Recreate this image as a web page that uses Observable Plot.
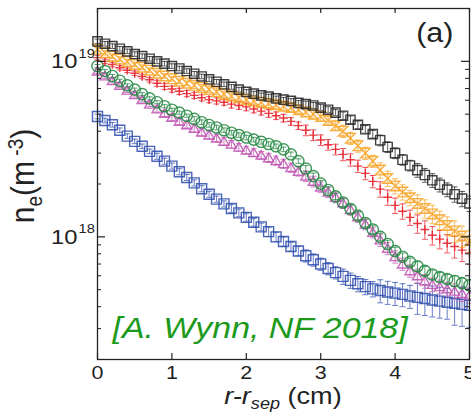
<!DOCTYPE html>
<html>
<head>
<meta charset="utf-8">
<script src="https://cdn.jsdelivr.net/npm/d3@7"></script>
<script src="https://cdn.jsdelivr.net/npm/@observablehq/plot@0.6"></script>
<style>
  html, body { margin: 0; padding: 0; background: #fff; }
  #chart svg { display: block; }
</style>
</head>
<body>
<div id="chart"></div>
<script>
// Radial position outside the separatrix (cm)
const rMinusRsep = [
  0.0, 0.1, 0.2, 0.3, 0.4, 0.5, 0.6, 0.7, 0.8, 0.9,
  1.0, 1.1, 1.2, 1.3, 1.4, 1.5, 1.6, 1.7, 1.8, 1.9,
  2.0, 2.1, 2.2, 2.3, 2.4, 2.5, 2.6, 2.7, 2.8, 2.9,
  3.0, 3.1, 3.2, 3.3, 3.4, 3.5, 3.6, 3.7, 3.8, 3.9,
  4.0, 4.1, 4.2, 4.3, 4.4, 4.5, 4.6, 4.7, 4.8, 4.9, 5.0
];

// Electron density profiles, in units of 1e18 m^-3
const neBlack = [
  13.0, 12.6, 12.2, 11.8, 11.4, 11.0, 10.7, 10.35, 10.0, 9.7,
  9.4, 9.1, 8.8, 8.5, 8.2, 7.9, 7.65, 7.4, 7.15, 6.9,
  6.7, 6.55, 6.4, 6.3, 6.15, 6.05, 5.95, 5.8, 5.7, 5.6,
  5.45, 5.3, 5.1, 4.9, 4.65, 4.35, 4.1, 3.85, 3.55, 3.25,
  3.0, 2.75, 2.55, 2.4, 2.25, 2.1, 1.98, 1.86, 1.75, 1.65, 1.55
];
const neOrange = [
  11.7, 11.2, 10.7, 10.3, 9.95, 9.6, 9.25, 8.9, 8.55, 8.25,
  7.95, 7.7, 7.5, 7.3, 7.1, 6.9, 6.7, 6.5, 6.35, 6.2,
  6.05, 5.95, 5.85, 5.75, 5.65, 5.55, 5.45, 5.3, 5.15, 5.0,
  4.85, 4.6, 4.3, 4.0, 3.65, 3.3, 3.0, 2.7, 2.4, 2.15,
  1.95, 1.8, 1.67, 1.55, 1.45, 1.35, 1.25, 1.16, 1.08, 1.01, 0.95
];
const neRed = [
  10.5, 10.0, 9.6, 9.2, 8.9, 8.55, 8.2, 7.85, 7.5, 7.2,
  6.95, 6.75, 6.55, 6.4, 6.2, 6.05, 5.95, 5.85, 5.7, 5.6,
  5.5, 5.35, 5.2, 5.05, 4.9, 4.75, 4.55, 4.3, 4.05, 3.8,
  3.56, 3.35, 3.15, 2.95, 2.75, 2.53, 2.3, 2.07, 1.87, 1.68,
  1.51, 1.4, 1.29, 1.19, 1.1, 1.02, 0.97, 0.92, 0.88, 0.84, 0.81
];
const neGreen = [
  9.4, 8.8, 8.25, 7.75, 7.3, 6.9, 6.5, 6.15, 5.85, 5.55,
  5.3, 5.1, 4.9, 4.7, 4.5, 4.34, 4.2, 4.05, 3.92, 3.8,
  3.68, 3.58, 3.48, 3.38, 3.28, 3.15, 2.95, 2.7, 2.45, 2.22,
  2.01, 1.85, 1.7, 1.57, 1.44, 1.32, 1.2, 1.1, 1.0, 0.91,
  0.83, 0.77, 0.72, 0.68, 0.64, 0.61, 0.59, 0.575, 0.56, 0.545, 0.53
];
const neMagenta = [
  8.8, 8.25, 7.75, 7.3, 6.85, 6.45, 6.05, 5.7, 5.35, 5.05,
  4.8, 4.55, 4.35, 4.15, 3.95, 3.8, 3.65, 3.5, 3.37, 3.24,
  3.12, 3.02, 2.92, 2.82, 2.72, 2.61, 2.48, 2.36, 2.22, 2.07,
  1.92, 1.8, 1.68, 1.56, 1.43, 1.3, 1.18, 1.06, 0.96, 0.86,
  0.77, 0.7, 0.64, 0.6, 0.56, 0.535, 0.52, 0.505, 0.49, 0.475, 0.465
];
const neBlue = [
  4.85, 4.6, 4.35, 4.05, 3.75, 3.5, 3.28, 3.07, 2.88, 2.7,
  2.53, 2.35, 2.18, 2.03, 1.88, 1.75, 1.64, 1.54, 1.45, 1.37,
  1.29, 1.21, 1.14, 1.07, 1.0, 0.94, 0.88, 0.83, 0.78, 0.74,
  0.7, 0.66, 0.625, 0.595, 0.565, 0.54, 0.52, 0.505, 0.495, 0.485,
  0.478, 0.47, 0.46, 0.452, 0.445, 0.437, 0.43, 0.424, 0.418, 0.412, 0.407
];

// Relative uncertainty per 0.5 cm band (0, 0.5, ..., 5 cm)
const errBands = [0, 0.5, 1, 1.5, 2, 2.5, 3, 3.5, 4, 4.5, 5];
const errBlack   = [0.03, 0.03, 0.03, 0.03, 0.03, 0.03, 0.04, 0.05, 0.07, 0.09, 0.10];
const errOrange  = [0.03, 0.03, 0.03, 0.04, 0.04, 0.05, 0.06, 0.08, 0.10, 0.12, 0.14];
const errRed     = [0.03, 0.03, 0.04, 0.04, 0.05, 0.05, 0.07, 0.08, 0.10, 0.12, 0.14];
const errGreen   = [0.02, 0.02, 0.02, 0.03, 0.03, 0.03, 0.04, 0.05, 0.05, 0.06, 0.07];
const errMagenta = [0.03, 0.03, 0.04, 0.05, 0.05, 0.06, 0.07, 0.07, 0.08, 0.09, 0.10];
const errBlue    = [0.03, 0.03, 0.04, 0.04, 0.05, 0.06, 0.08, 0.10, 0.15, 0.20, 0.25];

// Axis ticks
const xTicks = [0, 1, 2, 3, 4, 5];
const yMajor = [1e18, 1e19];
const yMinor = [2e17, 3e17, 4e17, 5e17, 6e17, 7e17, 8e17, 9e17,
                2e18, 3e18, 4e18, 5e18, 6e18, 7e18, 8e18, 9e18];

const UNIT = 1e18;

// Open marker shapes; r is the half-width in pixels
const half = (s) => Math.sqrt(s / Math.PI);
const symbols = {
  square:    {draw(c, s) { const r = half(s); c.rect(-r, -r, 2 * r, 2 * r); }},
  hourglass: {draw(c, s) { const r = half(s); c.moveTo(-r, -r); c.lineTo(r, -r); c.lineTo(-r, r); c.lineTo(r, r); c.closePath(); }},
  plus:      {draw(c, s) { const r = half(s); c.moveTo(-r, 0); c.lineTo(r, 0); c.moveTo(0, -r); c.lineTo(0, r); }},
  triangle:  {draw(c, s) { const r = half(s); c.moveTo(0, -r); c.lineTo(r * 1.1, r * 0.85); c.lineTo(-r * 1.1, r * 0.85); c.closePath(); }},
  circle:    {draw(c, s) { const r = half(s); c.moveTo(r, 0); c.arc(0, 0, r, 0, 2 * Math.PI); }},
  cap:       {draw(c, s) { const r = half(s); c.moveTo(-r, 0); c.lineTo(r, 0); }}
};

// Drawing order: bottom to top
const series = [
  {key: "blue",    values: neBlue,    err: errBlue,    color: "#3553b0", symbol: symbols.square,    r: 5.0},
  {key: "magenta", values: neMagenta, err: errMagenta, color: "#c058b4", symbol: symbols.triangle,  r: 4.6},
  {key: "green",   values: neGreen,   err: errGreen,   color: "#278a45", symbol: symbols.circle,    r: 5.6},
  {key: "red",     values: neRed,     err: errRed,     color: "#e8232e", symbol: symbols.plus,      r: 4.4},
  {key: "orange",  values: neOrange,  err: errOrange,  color: "#f7a52a", symbol: symbols.hourglass, r: 4.8},
  {key: "black",   values: neBlack,   err: errBlack,   color: "#2a2a2a", symbol: symbols.square,    r: 4.6}
];

const W = 471, H = 417;
const margin = {left: 97, right: 2, top: 8, bottom: 58};
const innerW = W - margin.left - margin.right;
const innerH = H - margin.top - margin.bottom;
const ink = "#222";
const font = "'Liberation Sans', Arial, Helvetica, sans-serif";
const textStretch = 1.13; // wide lettering of the figure

const seriesMarks = series.flatMap((s) => {
  const rows = rMinusRsep.map((x, i) => {
    const v = s.values[i] * UNIT;
    const e = s.err[errBands.indexOf(Math.round(x * 2) / 2)];
    return {x, v, lo: v * (1 - e), hi: v * (1 + e)};
  });
  return [
    Plot.ruleX(rows, {x: "x", y1: "lo", y2: "hi", stroke: s.color, strokeWidth: 1, strokeOpacity: 0.75}),
    Plot.dot(rows, {x: "x", y: "lo", symbol: symbols.cap, r: 3, stroke: s.color, strokeWidth: 1, strokeOpacity: 0.75}),
    Plot.dot(rows, {x: "x", y: "hi", symbol: symbols.cap, r: 3, stroke: s.color, strokeWidth: 1, strokeOpacity: 0.75}),
    Plot.dot(rows, {x: "x", y: "v", symbol: s.symbol, r: s.r, fill: "none", stroke: s.color, strokeWidth: 1.4, strokeOpacity: 0.9})
  ];
});

const chart = Plot.plot({
  width: W,
  height: H,
  marginLeft: margin.left,
  marginRight: margin.right,
  marginTop: margin.top,
  marginBottom: margin.bottom,
  style: {fontFamily: font, color: ink, background: "#fff", overflow: "visible"},
  x: {domain: [0, 5], axis: null},
  y: {type: "log", domain: [2e17, 2e19], axis: null},
  marks: [
    ...seriesMarks,
    // inward ticks on all four sides
    Plot.tickX(xTicks, {x: (d) => d, insetTop: innerH - 6, stroke: ink, strokeWidth: 1.2}),
    Plot.tickX(xTicks, {x: (d) => d, insetBottom: innerH - 5, stroke: ink, strokeWidth: 1.2}),
    Plot.tickY(yMajor, {y: (d) => d, insetRight: innerW - 8, stroke: ink, strokeWidth: 1.2}),
    Plot.tickY(yMinor, {y: (d) => d, insetRight: innerW - 4, stroke: ink, strokeWidth: 1}),
    Plot.tickY(yMajor, {y: (d) => d, insetLeft: innerW - 8, stroke: ink, strokeWidth: 1.2}),
    Plot.tickY(yMinor, {y: (d) => d, insetLeft: innerW - 4, stroke: ink, strokeWidth: 1}),
    Plot.frame({stroke: ink, strokeWidth: 1.3}),
    // tick labels
    Plot.text(xTicks, {x: (d) => d, frameAnchor: "bottom", text: (d) => String(d), dy: 13, lineAnchor: "middle", fontSize: 19, fill: ink}),
    Plot.text(yMajor, {y: (d) => d, frameAnchor: "left", text: () => "10", dx: -20, textAnchor: "end", lineAnchor: "middle", fontSize: 21, fill: ink}),
    Plot.text(yMajor, {y: (d) => d, frameAnchor: "left", text: (d) => String(Math.round(Math.log10(d))), dx: -19, dy: -8, textAnchor: "start", lineAnchor: "middle", fontSize: 13, fill: ink}),
    // annotations
    Plot.text(["(a)"], {frameAnchor: "top-right", text: (d) => d, dx: -16, dy: 25, textAnchor: "end", lineAnchor: "middle", fontSize: 27, fill: ink}),
    Plot.text(["[A. Wynn, NF 2018]"], {frameAnchor: "bottom-left", text: (d) => d, dx: 15, dy: -31, textAnchor: "start", lineAnchor: "middle", fontSize: 30, fontStyle: "italic", fill: "#1c9a1c"})
  ]
});

document.getElementById("chart").appendChild(chart);

const svg = d3.select(chart);

// Widen the lettering horizontally around each text's anchor point
svg.selectAll("text").each(function () {
  const t = d3.select(this);
  const tr = t.attr("transform");
  if (tr) {
    t.attr("transform", `${tr} scale(${textStretch},1)`);
  } else {
    const x = +t.attr("x") || 0, y = +t.attr("y") || 0;
    t.attr("x", null).attr("y", null).attr("transform", `translate(${x},${y}) scale(${textStretch},1)`);
  }
});

// Axis titles with sub- and superscripts
const xt = svg.append("text")
  .attr("transform", `translate(283,404) scale(${textStretch},1)`)
  .attr("text-anchor", "middle")
  .attr("font-family", font)
  .attr("font-size", 24)
  .attr("fill", ink);
xt.append("tspan").attr("font-style", "italic").text("r-r");
xt.append("tspan").attr("font-style", "italic").attr("font-size", 16).attr("dy", 5).text("sep");
xt.append("tspan").attr("dy", -5).text(" (cm)");

const yt = svg.append("text")
  .attr("transform", `translate(34,176) scale(${textStretch},1) rotate(-90)`)
  .attr("text-anchor", "middle")
  .attr("font-family", font)
  .attr("font-size", 30)
  .attr("fill", ink);
yt.append("tspan").text("n");
yt.append("tspan").attr("font-size", 19).attr("dy", 7).text("e");
yt.append("tspan").attr("dy", -7).text("(m");
yt.append("tspan").attr("font-size", 19).attr("dy", -10).text(" -3");
yt.append("tspan").attr("dy", 10).text(")");
</script>
</body>
</html>
